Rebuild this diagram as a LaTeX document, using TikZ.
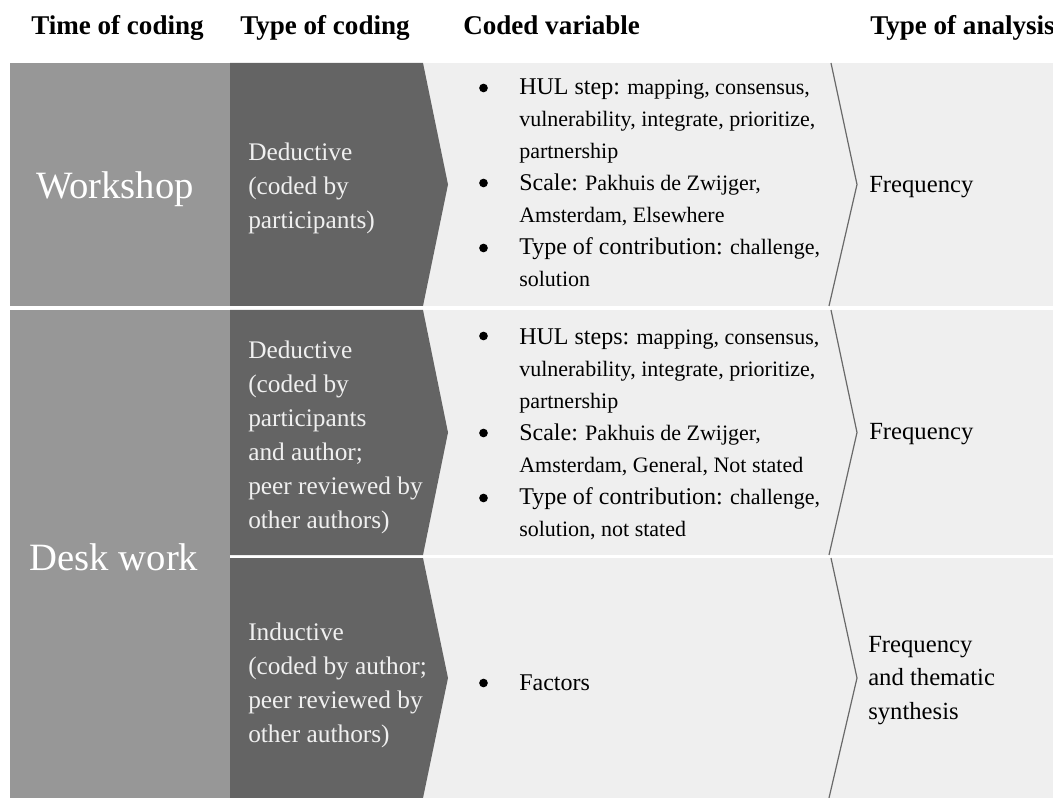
\documentclass[tikz,border=0pt]{standalone}
\usepackage{fontspec}
\setmainfont{Liberation Serif}
\usetikzlibrary{positioning}
\definecolor{timegray}{RGB}{151,151,151}
\definecolor{typegray}{RGB}{100,100,100}
\definecolor{varbg}{RGB}{239,239,239}
\definecolor{chevgray}{RGB}{105,105,105}
\newcommand{\keyw}[1]{{\fontsize{18}{24}\selectfont #1}}
\tikzset{
  header/.style = {font=\fontsize{20.3}{24}\selectfont\bfseries, anchor=base west, inner sep=0pt},
  timetext/.style = {font=\fontsize{29}{34}\selectfont, text=white, anchor=base, inner sep=0pt},
  typetext/.style = {font=\fontsize{19}{25.5}\selectfont, text=white!94!black, align=left, anchor=base west, inner sep=0pt},
  vartext/.style = {font=\fontsize{16.5}{24}\selectfont, align=left, anchor=base west, inner sep=0pt},
  analysistext/.style = {font=\fontsize{18.5}{25}\selectfont, align=left, anchor=base west, inner sep=0pt},
  dot/.style = {circle,fill=black,minimum size=6.5pt,inner sep=0pt},
  chevron/.style = {draw=chevgray, line width=0.9pt}
}
\begin{document}
\begin{tikzpicture}[x=0.75pt,y=-0.75pt]
  \useasboundingbox (0,0) rectangle (1053,798);
  % column heads
  \node[header] (htime) at (31,35) {Time of coding};
  \node[header] (htype) at (240,35) {Type of coding};
  \node[header] (hvar) at (463,35) {Coded variable};
  \node[header] (hana) at (870,35) {Type of analysis};
  % rows
  \fill[varbg] (10,63) rectangle (1053,306);
  \fill[varbg] (10,310) rectangle (1053,555);
  \fill[varbg] (10,558) rectangle (1053,798);
  \fill[timegray] (10,63) rectangle (230,306);
  \fill[timegray] (10,310) rectangle (230,798);
  \foreach \t/\b in {63/306,310/555,558/798}{
    \fill[typegray] (230,\t) -- (423,\t) -- (448,{(\t+\b)/2}) -- (423,\b) -- (230,\b) -- cycle;
    \draw[chevron] (831,\t) -- (857,{(\t+\b)/2}) -- (829,\b);
  }
  % time of coding
  \node[timetext] (workshop) at (115,199) {Workshop};
  \node[timetext] (desk) at (114,570) {Desk work};
  % type of coding (base = last line)
  \node[typetext] (deduct1) at (248,229) {Deductive\\(coded by\\participants)};
  \node[typetext] (deduct2) at (248,528) {Deductive\\(coded by\\participants\\and author;\\peer reviewed by\\other authors)};
  \node[typetext] (induct) at (248,742) {Inductive\\(coded by author;\\peer reviewed by\\other authors)};
  % coded variable
  \foreach \y [count=\i] in {95,190,255,343,440,505,690}
    \node[dot] (bul\i) at (483.5,\y-7) {};
  \node[vartext] (var1) at (519,287) {\keyw{HUL step:} mapping, consensus,\\vulnerability, integrate, prioritize,\\partnership\\\keyw{Scale:} Pakhuis de Zwijger,\\Amsterdam, Elsewhere\\\keyw{Type of contribution:} challenge,\\solution};
  \node[vartext] (var2) at (519,536) {\keyw{HUL steps:} mapping, consensus,\\vulnerability, integrate, prioritize,\\partnership\\\keyw{Scale:} Pakhuis de Zwijger,\\Amsterdam, General, Not stated\\\keyw{Type of contribution:} challenge,\\solution, not stated};
  \node[vartext] (var3) at (519,690) {\keyw{Factors}};
  % type of analysis
  \node[analysistext] (freq1) at (869,193) {Frequency};
  \node[analysistext] (freq2) at (869,440) {Frequency};
  \node[analysistext] (freq3) at (868,719) {Frequency\\and thematic\\synthesis};
\end{tikzpicture}
\end{document}
